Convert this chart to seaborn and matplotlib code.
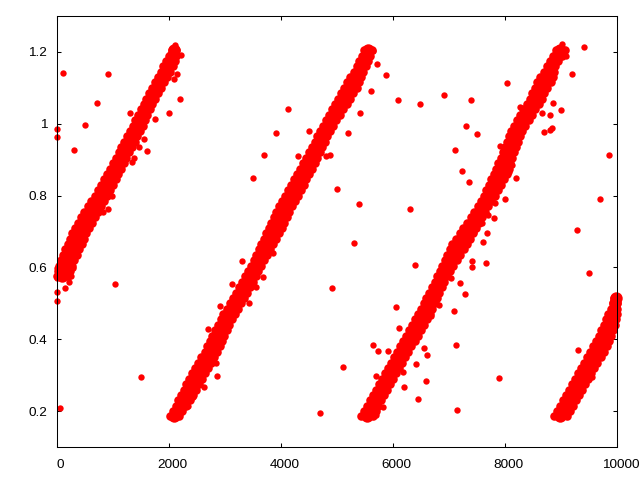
import matplotlib
matplotlib.use("Agg")
import matplotlib.pyplot as plt
from matplotlib.transforms import ScaledTranslation
import seaborn as sns

# y rows shared by the dense bands
y_rows = [0.185, 0.20, 0.215, 0.23, 0.245, 0.26, 0.275, 0.29, 0.305, 0.32, 0.335, 0.35, 0.365, 0.38, 0.395,
          0.41, 0.425, 0.44, 0.455, 0.47, 0.485, 0.50, 0.515, 0.53, 0.545, 0.56, 0.575, 0.59, 0.605, 0.62,
          0.635, 0.65, 0.665, 0.68, 0.695, 0.71, 0.725, 0.74, 0.755, 0.77, 0.785, 0.80, 0.815, 0.83, 0.845,
          0.86, 0.875, 0.89, 0.905, 0.92, 0.935, 0.95, 0.965, 0.98, 0.995, 1.01, 1.025, 1.04, 1.055, 1.07,
          1.085, 1.10, 1.115, 1.13, 1.145, 1.16, 1.175, 1.19, 1.205]

# first band, rows from 0.575 up
band1_left = [0, 20, 40, 75, 110, 150, 190, 235, 275, 320, 375, 435, 490, 550, 610, 680, 735, 790, 845, 895, 945,
              1000, 1050, 1100, 1150, 1200, 1250, 1300, 1350, 1400, 1450, 1495, 1545, 1595, 1650, 1700, 1750,
              1800, 1850, 1900, 1945, 1995, 2050]
band1_mid = [95, 125, 155, 190, 230, 270, 315, 360, 400, 445, 495, 550, 605, 665, 720, 785, 835, 890, 945, 995,
             1040, 1095, 1145, 1195, 1240, 1290, 1340, 1390, 1440, 1485, 1530, 1575, 1620, 1675, 1725, 1780,
             1830, 1880, 1935, 1985, 2030, 2060, 2090]
band1_right = [190, 230, 270, 310, 350, 395, 440, 485, 525, 570, 620, 670, 725, 780, 835, 890, 940, 995, 1045,
               1095, 1140, 1190, 1240, 1290, 1335, 1385, 1435, 1485, 1530, 1570, 1615, 1655, 1700, 1755, 1805,
               1860, 1915, 1965, 2020, 2070, 2110, 2125, 2130]

# second band, all rows
band2_left = [2020, 2070, 2120, 2165, 2215, 2260, 2305, 2360, 2415, 2470, 2525, 2580, 2635, 2680, 2730, 2775, 2825,
              2870, 2920, 2970, 3030, 3085, 3145, 3200, 3255, 3310, 3365, 3415, 3465, 3515, 3560, 3605, 3650,
              3695, 3740, 3780, 3825, 3870, 3915, 3965, 4020, 4075, 4130, 4185, 4240, 4290, 4345, 4395, 4450,
              4500, 4550, 4600, 4650, 4695, 4750, 4800, 4855, 4905, 4960, 5015, 5070, 5125, 5180, 5240, 5295,
              5350, 5400, 5445, 5490]
band2_mid = [2095, 2155, 2210, 2265, 2320, 2370, 2420, 2470, 2525, 2585, 2640, 2695, 2745, 2790, 2840, 2880, 2930,
             2975, 3020, 3070, 3130, 3185, 3240, 3295, 3350, 3400, 3455, 3505, 3555, 3605, 3650, 3700, 3750,
             3800, 3855, 3895, 3940, 3985, 4030, 4080, 4135, 4190, 4250, 4295, 4345, 4395, 4450, 4500, 4550,
             4595, 4640, 4690, 4740, 4785, 4835, 4890, 4950, 5010, 5065, 5130, 5180, 5240, 5285, 5330, 5380,
             5430, 5475, 5515, 5555]
band2_right = [2170, 2240, 2300, 2370, 2430, 2480, 2535, 2585, 2640, 2700, 2755, 2810, 2860, 2905, 2950, 2990, 3035,
               3080, 3125, 3170, 3225, 3280, 3335, 3390, 3440, 3495, 3545, 3595, 3645, 3695, 3745, 3795, 3850,
               3910, 3965, 4010, 4060, 4105, 4150, 4200, 4250, 4300, 4365, 4410, 4455, 4505, 4555, 4610, 4650,
               4690, 4735, 4785, 4830, 4875, 4925, 4985, 5045, 5115, 5170, 5240, 5290, 5360, 5395, 5425, 5465,
               5510, 5550, 5590, 5620]

# third band, all rows
band3_left = [5430, 5480, 5530, 5585, 5635, 5690, 5745, 5800, 5855, 5910, 5965, 6020, 6070, 6120, 6170, 6225, 6280,
              6335, 6390, 6445, 6495, 6545, 6595, 6645, 6695, 6745, 6790, 6835, 6880, 6925, 6970, 7010, 7060,
              7130, 7195, 7255, 7320, 7385, 7450, 7515, 7580, 7625, 7665, 7710, 7755, 7800, 7845, 7880, 7920,
              7960, 8000, 8040, 8075, 8105, 8160, 8215, 8270, 8325, 8385, 8440, 8485, 8530, 8580, 8630, 8690,
              8745, 8800, 8860, 8915]
band3_mid = [5535, 5585, 5635, 5690, 5740, 5790, 5845, 5900, 5955, 6010, 6065, 6120, 6170, 6225, 6280, 6330, 6385,
             6440, 6500, 6550, 6600, 6645, 6690, 6735, 6780, 6825, 6875, 6925, 6980, 7030, 7085, 7140, 7190,
             7250, 7310, 7365, 7430, 7490, 7545, 7605, 7665, 7720, 7770, 7820, 7870, 7915, 7960, 7990, 8025,
             8060, 8100, 8135, 8170, 8205, 8260, 8315, 8375, 8430, 8490, 8550, 8590, 8640, 8700, 8740, 8780,
             8820, 8870, 8935, 8990]
band3_right = [5640, 5690, 5740, 5790, 5840, 5890, 5945, 6000, 6055, 6110, 6165, 6220, 6275, 6330, 6385, 6440, 6495,
               6550, 6605, 6660, 6700, 6745, 6785, 6825, 6870, 6910, 6960, 7020, 7080, 7140, 7200, 7270, 7320,
               7370, 7425, 7480, 7535, 7590, 7640, 7695, 7755, 7820, 7870, 7925, 7980, 8030, 8075, 8095, 8130,
               8165, 8200, 8235, 8270, 8305, 8360, 8420, 8480, 8540, 8600, 8655, 8700, 8745, 8820, 8850, 8870,
               8890, 8940, 9010, 9070]

# last band, rows up to 0.515
band4_left = [8870, 8920, 8975, 9030, 9085, 9140, 9190, 9245, 9300, 9355, 9410, 9465, 9520, 9575, 9630, 9675, 9720,
              9765, 9805, 9845, 9885, 9920, 9950]
band4_mid = [8990, 9040, 9100, 9150, 9205, 9260, 9310, 9365, 9420, 9475, 9530, 9585, 9640, 9695, 9745, 9790, 9830,
             9865, 9900, 9925, 9945, 9960, 9975]
band4_right = [9110, 9165, 9220, 9275, 9325, 9380, 9435, 9490, 9540, 9595, 9650, 9710, 9760, 9815, 9860, 9900, 9935,
               9965, 9990, 10000, 10000, 10000, 10000]

# stray points
stray_x = [113, 917, 708, 506, 1310, 310, 0, 0, 2203, 2006, 1756, 1613, 1560, 1470, 2138, 2096, 2215, 1380, 1345,
           2110,
           1042, 5, 5, 143, 220, 255, 0, 0, 917, 828, 988, 291, 3120, 2916, 2703, 60, 1506,
           3310, 3685, 3560, 3435, 4917, 5114, 4703, 2863, 2845, 2631, 2435, 2346, 3852,
           4119, 3917, 3703, 3506, 4506, 4310, 4810, 4881, 5203, 5417, 5613, 5881, 5720, 6095, 6488, 5006, 5399,
           6309, 5650, 5310, 6399, 6059, 6113, 5650, 5738, 5917, 6560, 6613, 6416, 6595, 6202, 6452, 7149, 7899,
           7131, 7095, 7292, 7203, 7667, 7613, 7417, 7417, 6827, 5828, 5703, 5696, 6184, 6680, 7452, 7673, 7030,
           9023, 9416, 9202, 8042, 6917, 7399, 7310, 7506, 7113, 7238, 7363, 9863, 9702, 9291, 9006, 8809, 8666,
           8863, 8702, 8809, 8845, 8006, 8202, 7810, 7702, 7595, 7821, 8131, 8077, 8274, 7917, 9095,
           9309, 9559, 9500]
stray_y = [1.141, 1.138, 1.057, 0.996, 1.029, 0.926, 0.985, 0.962, 1.068, 1.029, 1.013, 0.923, 0.958, 0.935, 1.138,
           1.124, 1.192, 0.905, 0.893,
           1.218,
           0.553, 0.506, 0.532, 0.543, 0.559, 0.575, 0.57, 0.597, 0.762, 0.753, 0.799, 0.598, 0.553, 0.492, 0.428,
           0.208, 0.294,
           0.617, 0.572, 0.545, 0.5, 0.542, 0.322, 0.194, 0.299, 0.333, 0.266, 0.238, 0.213, 0.639,
           1.04, 0.974, 0.912, 0.848, 0.979, 0.91, 0.91, 0.912, 0.974, 1.029, 1.09, 1.135, 1.166, 1.066, 1.054,
           0.818, 0.776,
           0.762, 1.203, 0.667, 0.606, 0.489, 0.43, 0.383, 0.366, 0.366, 0.377, 0.355, 0.33, 0.285, 0.266, 0.235,
           0.202, 0.291,
           0.383, 0.478, 0.525, 0.556, 0.611, 0.67, 0.618, 0.6, 0.494, 0.21, 0.299, 0.19, 0.308, 0.465, 0.70, 0.695,
           0.57,
           1.222, 1.213, 1.138, 1.113, 1.08, 1.066, 0.993, 0.971, 0.926, 0.868, 0.837, 0.912, 0.79, 0.705, 1.038,
           1.024, 1.029,
           1.057, 0.976, 0.982, 0.988, 0.79, 0.848, 0.737, 0.745, 0.723, 0.78, 0.885, 0.865, 1.046, 0.937, 1.188,
           0.369, 0.294, 0.585]

x_ticks = [0, 2000, 4000, 6000, 8000, 10000]
y_ticks = [0.2, 0.4, 0.6, 0.8, 1, 1.2]
y_labels = ["0.2", "0.4", "0.6", "0.8", "1", "1.2"]

sns.set_theme(style="ticks")
plt.rcParams["font.family"] = ["Liberation Sans"]

fig = plt.figure(figsize=(6.4, 4.8), dpi=100)
ax = fig.add_axes([57 / 640, 33 / 480, 560 / 640, 431 / 480])

rows1 = y_rows[26:]
rows4 = y_rows[:23]

# edge columns a bit fat, the middle column bigger still so the band closes up
edges = [
    (band1_left, rows1), (band1_right, rows1),
    (band2_left, y_rows), (band2_right, y_rows),
    (band3_left, y_rows), (band3_right, y_rows),
    (band4_left, rows4), (band4_right, rows4),
]
mids = [(band1_mid, rows1), (band2_mid, y_rows), (band3_mid, y_rows), (band4_mid, rows4)]

for xs, ys in edges:
    sns.scatterplot(x=xs, y=ys, color="#ff0000", s=38, linewidth=0, clip_on=False, ax=ax)
for xs, ys in mids:
    sns.scatterplot(x=xs, y=ys, color="#ff0000", s=80, linewidth=0, clip_on=False, ax=ax)
sns.scatterplot(x=stray_x, y=stray_y, color="#ff0000", s=21, linewidth=0, clip_on=False, ax=ax)

ax.set_xlim(0, 10000)
ax.set_ylim(0.1, 1.3)
ax.set_xticks(x_ticks)
ax.set_xticklabels([str(t) for t in x_ticks])
ax.set_yticks(y_ticks)
ax.set_yticklabels(y_labels)
ax.tick_params(direction="in", length=3, width=0.75, color="black", labelcolor="black",
               labelsize=9.7, top=True, right=True)
ax.tick_params(axis="x", pad=9)
ax.tick_params(axis="y", pad=7)
for side in ax.spines.values():
    side.set_linewidth(0.75)
    side.set_color("black")

# x labels sit a little right of their ticks
shift = ScaledTranslation(3.5 / 100, 0, fig.dpi_scale_trans)
for lab in ax.get_xticklabels():
    lab.set_transform(lab.get_transform() + shift)

plt.savefig("out.png", dpi=100)
